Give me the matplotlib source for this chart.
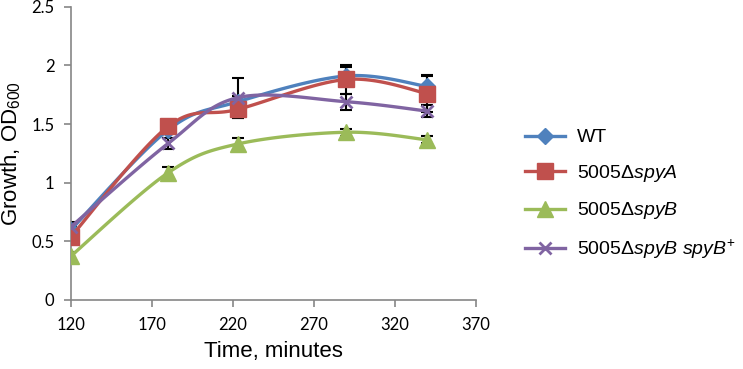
import numpy as np
import matplotlib
matplotlib.use('Agg')
import matplotlib.pyplot as plt

plt.rcParams['font.family'] = ['Liberation Sans', 'DejaVu Sans']
plt.rcParams['mathtext.fontset'] = 'custom'
plt.rcParams['mathtext.rm'] = 'Liberation Sans'
plt.rcParams['mathtext.it'] = 'Liberation Sans:italic'

# data
time_min = [120, 180, 223, 290, 340]
wt = [0.60, 1.45, 1.69, 1.91, 1.82]
spyA = [0.54, 1.48, 1.625, 1.88, 1.76]
spyB = [0.375, 1.085, 1.33, 1.43, 1.365]
spyB_comp = [0.625, 1.335, 1.725, 1.69, 1.61]

wt_err = [0.03, 0.03, 0.05, 0.08, 0.09]
spyA_err = [0.05, 0.04, 0.07, 0.12, 0.16]
spyB_err = [0.03, 0.05, 0.05, 0.03, 0.03]
spyB_comp_err = [0.04, 0.05, 0.17, 0.07, 0.05]

labels = ['WT', r'5005Δ$\mathit{spyA}$', r'5005Δ$\mathit{spyB}$',
          r'5005Δ$\mathit{spyB}$ $\mathit{spyB}^{+}$']
colors = ['#4F81BD', '#C0504D', '#9BBB59', '#8064A2']
markers = ['D', 's', '^', 'x']
msizes = [8, 11, 11, 9]


def smooth(x, y, n=30):
    # Excel style smoothed line (bezier through the points)
    pts = np.column_stack([x, y]).astype(float)
    pts = np.vstack([pts[0], pts, pts[-1]])
    out = []
    t = np.linspace(0, 1, n)[:, None]
    for i in range(1, len(pts) - 2):
        p0, p1, p2, p3 = pts[i - 1], pts[i], pts[i + 1], pts[i + 2]
        c1 = p1 + (p2 - p0) / 6
        c2 = p2 - (p3 - p1) / 6
        seg = ((1 - t) ** 3) * p1 + 3 * ((1 - t) ** 2) * t * c1 + 3 * (1 - t) * t ** 2 * c2 + t ** 3 * p2
        out.append(seg)
    out = np.vstack(out)
    return out[:, 0], out[:, 1]


fig = plt.figure(figsize=(7.43, 3.69), dpi=100)
ax = fig.add_axes([71 / 743, 1 - 300 / 369, (476 - 71) / 743, (300 - 6.7) / 369])

series = [wt, spyA, spyB, spyB_comp]
errs = [wt_err, spyA_err, spyB_err, spyB_comp_err]

for ys, es in zip(series, errs):
    ax.errorbar(time_min, ys, yerr=es, fmt='none', ecolor='black', elinewidth=1.5,
                capsize=4, capthick=1.5, zorder=2)

for i, (ys, lab, c, m, ms) in enumerate(zip(series, labels, colors, markers, msizes)):
    sx, sy = smooth(time_min, ys)
    ax.plot(sx, sy, color=c, lw=2.4, zorder=3 + i)
    if m == 'x':
        ax.plot(time_min, ys, ls='none', marker=m, ms=ms, mew=2, color=c, zorder=3 + i)
        ax.plot([], [], color=c, lw=2.4, marker=m, ms=ms, mew=2, label=lab)
    else:
        ax.plot(time_min, ys, ls='none', marker=m, ms=ms, mfc=c, mec=c, zorder=3 + i)
        ax.plot([], [], color=c, lw=2.4, marker=m, ms=ms, mfc=c, mec=c, label=lab)

ax.set_xlim(120, 370)
ax.set_ylim(0, 2.5)
ax.set_xticks([120, 170, 220, 270, 320, 370])
ax.set_yticks([0, 0.5, 1, 1.5, 2, 2.5])
ax.set_yticklabels(['0', '0.5', '1', '1.5', '2', '2.5'])

for s in ['top', 'right']:
    ax.spines[s].set_visible(False)
for s in ['left', 'bottom']:
    ax.spines[s].set_color('#868686')
    ax.spines[s].set_linewidth(1.2)
ax.tick_params(axis='both', direction='out', length=5, width=1.2, color='#868686',
               labelsize=12, pad=7)
for lbl in ax.get_xticklabels() + ax.get_yticklabels():
    lbl.set_family(['Lato', 'DejaVu Sans'])

ax.set_xlabel('Time, minutes', fontsize=16, labelpad=6)
ax.set_ylabel(r'Growth, OD$_{\mathregular{600}}$', fontsize=16, labelpad=6)

fig.legend(loc='center left', bbox_to_anchor=(507 / 743, 1 - 195 / 369), frameon=False,
           fontsize=14, handlelength=2.1, labelspacing=0.85, handletextpad=0.6)

fig.savefig('out.png', dpi=100)
